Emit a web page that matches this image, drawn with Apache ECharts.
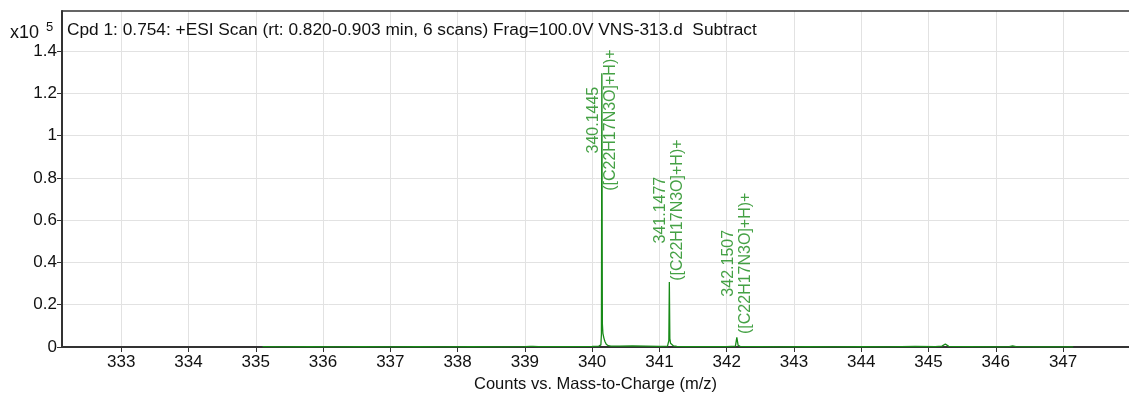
<!DOCTYPE html>
<html>
<head>
<meta charset="utf-8">
<title>Cpd 1 spectrum</title>
<script src="https://cdn.jsdelivr.net/npm/echarts@6/dist/echarts.min.js"></script>
<style>
  html, body { margin: 0; padding: 0; background: #fff; }
  #chart { width: 1129px; height: 394px; }
</style>
</head>
<body>
<div id="chart"></div>
<script>
// tick labels
var xTicks = [333, 334, 335, 336, 337, 338, 339, 340, 341, 342, 343, 344, 345, 346, 347];
var yTicks = [0, 0.2, 0.4, 0.6, 0.8, 1, 1.2, 1.4];

// profile spectrum, m/z and counts (x10^5)
var mz = [
  335.10, 335.40, 335.80, 336.20, 336.60, 337.00, 337.40, 337.80, 338.20, 338.60,
  339.00, 339.08, 339.10, 339.12, 339.20, 339.60, 340.00, 340.10, 340.13, 340.138,
  340.1445, 340.152, 340.16, 340.175, 340.19, 340.21, 340.24, 340.28, 340.40, 340.60,
  340.80, 341.00, 341.12, 341.140, 341.1477, 341.155, 341.165, 341.18, 341.21, 341.26,
  341.40, 341.70, 342.00, 342.13, 342.1507, 342.17, 342.20, 342.50, 342.80, 343.20,
  343.60, 344.00, 344.40, 344.80, 345.10, 345.20, 345.25, 345.30, 345.60, 346.00,
  346.20, 346.25, 346.30, 346.70, 347.15
];
var counts = [
  0.002, 0.001, 0.002, 0.001, 0.002, 0.001, 0.002, 0.001, 0.002, 0.001,
  0.002, 0.003, 0.012, 0.003, 0.002, 0.002, 0.003, 0.004, 0.010, 0.060,
  1.296, 0.110, 0.065, 0.042, 0.026, 0.013, 0.006, 0.004, 0.004, 0.005,
  0.004, 0.003, 0.004, 0.030, 0.307, 0.040, 0.018, 0.010, 0.005, 0.003,
  0.002, 0.002, 0.002, 0.004, 0.046, 0.008, 0.003, 0.002, 0.001, 0.002,
  0.001, 0.002, 0.001, 0.003, 0.002, 0.004, 0.014, 0.003, 0.002, 0.001,
  0.002, 0.005, 0.002, 0.001, 0.001
];

// annotated peaks
var peakMz = [340.1445, 341.1477, 342.1507];
var peakCounts = [1.296, 0.307, 0.046];
var peakFormula = ["([C22H17N3O]+H)+", "([C22H17N3O]+H)+", "([C22H17N3O]+H)+"];
var labelShift = [-47, 72, 74]; // px along the rotated text

var green = "#178a17";
var textFont = "Liberation Sans, Arial, sans-serif";

var chart = echarts.init(document.getElementById("chart"));

var lineData = mz.map(function (m, i) { return [m, counts[i]]; });
var peakData = peakMz.map(function (m, i) {
  return {
    value: [m, peakCounts[i]],
    label: { offset: [labelShift[i], 0] },
    text: m.toFixed(4) + "\n" + peakFormula[i]
  };
});

var option = {
  animation: false,
  textStyle: { fontFamily: textFont },
  title: {
    text: "Cpd 1: 0.754: +ESI Scan (rt: 0.820-0.903 min, 6 scans) Frag=100.0V VNS-313.d  Subtract",
    left: 67,
    top: 22,
    padding: 0,
    textStyle: { fontSize: 17.3, fontWeight: "normal", color: "#111", fontFamily: textFont }
  },
  graphic: [
    { type: "text", left: 10, top: 24, style: { text: "x10", fontSize: 18, fill: "#111", fontFamily: textFont } },
    { type: "text", left: 46, top: 21, style: { text: "5", fontSize: 13, fill: "#111", fontFamily: textFont } }
  ],
  grid: { left: 62, top: 11, right: 0, bottom: 47, outerBoundsMode: "none" },
  xAxis: [
    {
      type: "value",
      min: 332.12,
      max: 347.98,
      minInterval: 1,
      maxInterval: 1,
      name: "Counts vs. Mass-to-Charge (m/z)",
      nameLocation: "middle",
      nameGap: 29,
      nameTextStyle: { fontSize: 16.5, color: "#111" },
      axisLine: { lineStyle: { color: "#333", width: 2 } },
      axisTick: { show: true, length: 5, customValues: xTicks, lineStyle: { color: "#333" } },
      axisLabel: { customValues: xTicks, fontSize: 17, color: "#111", margin: 7 },
      splitLine: { show: true, lineStyle: { color: "#e2e2e2", width: 1 } }
    },
    {
      type: "value",
      position: "top",
      min: 332.12,
      max: 347.98,
      axisLine: { show: true, onZero: false, lineStyle: { color: "#333", width: 1.5 } },
      axisTick: { show: false },
      axisLabel: { show: false },
      splitLine: { show: false }
    }
  ],
  yAxis: {
    type: "value",
    min: 0,
    max: 1.59,
    minInterval: 0.2,
    maxInterval: 0.2,
    axisLine: { show: true, lineStyle: { color: "#333", width: 2 } },
    axisTick: { show: true, length: 5, customValues: yTicks, lineStyle: { color: "#333" } },
    axisLabel: {
      customValues: yTicks,
      fontSize: 17,
      color: "#111",
      margin: 5,
      formatter: function (v) { return String(Math.round(v * 10) / 10); }
    },
    splitLine: { show: true, lineStyle: { color: "#e2e2e2", width: 1 } }
  },
  series: [
    {
      type: "line",
      data: lineData,
      showSymbol: false,
      lineStyle: { color: green, width: 1.3 },
      z: 3
    },
    {
      type: "scatter",
      data: peakData,
      symbolSize: 0,
      silent: true,
      z: 4,
      label: {
        show: true,
        position: "inside",
        rotate: 90,
        align: "center",
        verticalAlign: "middle",
        fontSize: 16,
        lineHeight: 17,
        color: green,
        fontFamily: textFont,
        formatter: function (p) { return p.data.text; }
      }
    }
  ]
};

chart.setOption(option);
window.addEventListener("resize", function () {
  chart.resize();
});
</script>
</body>
</html>
